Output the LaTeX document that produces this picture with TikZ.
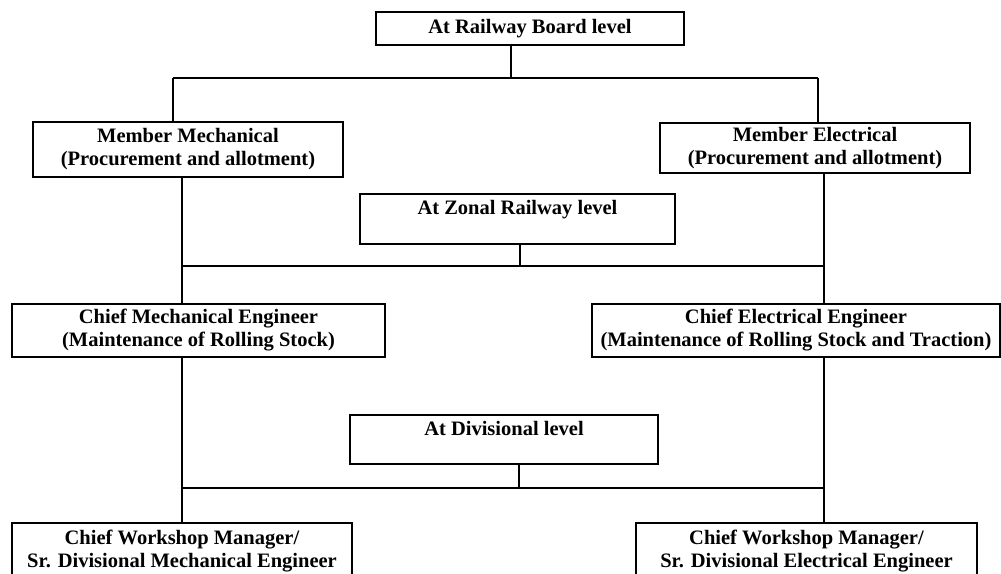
\documentclass[tikz,border=0pt]{standalone}
\usepackage{fontspec}
\setmainfont{Liberation Serif}
\begin{document}
\begin{tikzpicture}[x=1pt,y=-1pt,
  box/.style={draw, line width=1.8pt, inner sep=0pt, align=center,
    font=\bfseries\fontsize{20.5}{23}\selectfont},
  conn/.style={line width=2pt}]
\useasboundingbox (0,0) rectangle (1001,573);
\fill[white] (0,0) rectangle (1001,573);
% boxes
\node[box, minimum width=308pt, minimum height=33pt] (rb) at (530,28.5) {At Railway Board level};
\node[box, minimum width=310pt, minimum height=55pt] (mm) at (188,149.5) {Member Mechanical\\(Procurement and allotment)};
\node[box, minimum width=310pt, minimum height=50pt] (me) at (815,148) {Member Electrical\\(Procurement and allotment)};
\node[box, minimum width=315pt, minimum height=50pt] (zr) at (517.5,219) {At Zonal Railway level\\\mbox{}};
\node[box, minimum width=373pt, minimum height=53pt] (cme) at (198.5,330.5) {Chief Mechanical Engineer\\(Maintenance of Rolling Stock)};
\node[box, minimum width=408pt, minimum height=53pt] (cee) at (796,330.5) {Chief Electrical Engineer\\(Maintenance of Rolling Stock and Traction)};
\node[box, minimum width=308pt, minimum height=49pt] (dl) at (504,439.5) {At Divisional level\\\mbox{}};
\node[box, minimum width=340pt, minimum height=56pt] (cwm) at (182,551) {Chief Workshop Manager/\\Sr. Divisional Mechanical Engineer};
\node[box, minimum width=341pt, minimum height=56pt] (cwe) at (806.5,551) {Chief Workshop Manager/\\Sr. Divisional Electrical Engineer};
% junction coordinates
\coordinate (j1) at (511,78);
\coordinate (j1l) at (173,78);
\coordinate (j1r) at (818,78);
\coordinate (j2) at (520,266);
\coordinate (j2l) at (182,266);
\coordinate (j2r) at (824,266);
\coordinate (j3) at (519,488);
\coordinate (j3l) at (182,488);
\coordinate (j3r) at (824,488);
% connectors
\draw[conn] (rb.south -| j1) -- (j1);
\draw[conn] (j1l) -- (j1r);
\draw[conn] (j1l) -- (j1l |- mm.north);
\draw[conn] (j1r) -- (j1r |- me.north);
\draw[conn] (mm.south -| j2l) -- (cme.north -| j2l);
\draw[conn] (me.south -| j2r) -- (cee.north -| j2r);
\draw[conn] (j2l) -- (j2r);
\draw[conn] (zr.south -| j2) -- (j2);
\draw[conn] (cme.south -| j3l) -- (cwm.north -| j3l);
\draw[conn] (cee.south -| j3r) -- (cwe.north -| j3r);
\draw[conn] (j3l) -- (j3r);
\draw[conn] (dl.south -| j3) -- (j3);
\end{tikzpicture}
\end{document}
